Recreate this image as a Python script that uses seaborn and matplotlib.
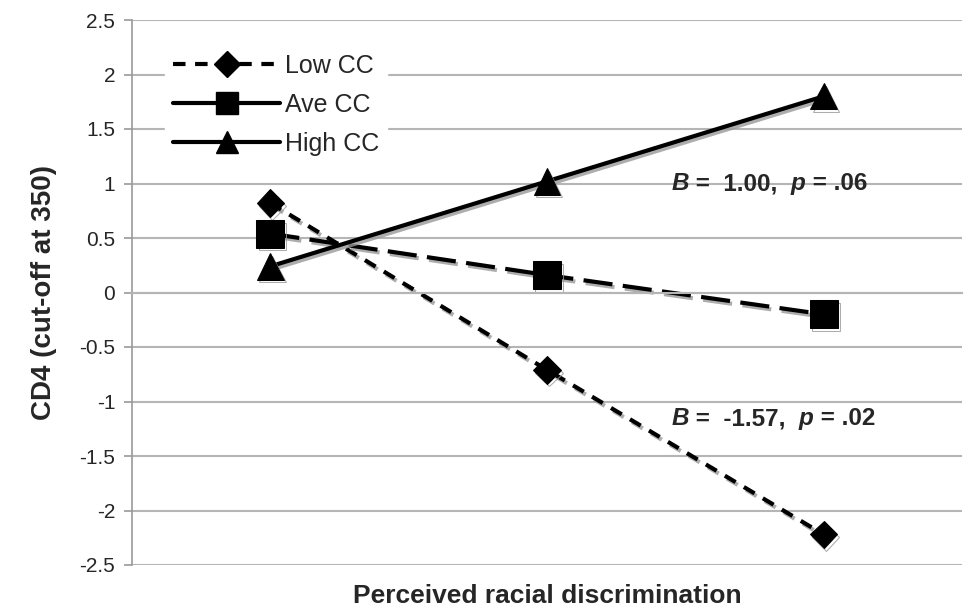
import pandas as pd
import seaborn as sns
import matplotlib.pyplot as plt
import matplotlib.patheffects as pe
from matplotlib.lines import Line2D

# values (three levels of discrimination)
levels = [0, 1, 2]
low_cc = [0.82, -0.71, -2.22]
ave_cc = [0.54, 0.16, -0.20]
high_cc = [0.24, 1.02, 1.80]
series_names = ['Low CC', 'Ave CC', 'High CC']
y_ticks = [2.5, 2, 1.5, 1, 0.5, 0, -0.5, -1, -1.5, -2, -2.5]

df = pd.DataFrame({
    'x': levels * 3,
    'y': low_cc + ave_cc + high_cc,
    'group': [n for n in series_names for _ in levels],
})

sns.set_style('white')
plt.rcParams['font.family'] = ['Liberation Sans', 'DejaVu Sans']

fig = plt.figure(figsize=(9.71, 6.07), dpi=100)
ax = fig.add_axes([132 / 971, 1 - 565 / 607, 830 / 971, 545 / 607])

markers = {'Low CC': 'D', 'Ave CC': 's', 'High CC': '^'}
dashes = {'Low CC': (3, 2.3), 'Ave CC': (7, 2.5), 'High CC': ''}
sns.lineplot(data=df, x='x', y='y', style='group', markers=markers, dashes=dashes,
             color='black', linewidth=3, ax=ax, legend=False)

sizes = {'Low CC': 14, 'Ave CC': 20, 'High CC': 19}
for line, name in zip(ax.lines, series_names):
    line.set_markersize(sizes[name])
    line.set_markeredgecolor('black')
    line.set_markerfacecolor('black')
    line.set_path_effects([pe.SimpleLineShadow(offset=(1.5, -2), shadow_color='#999999', alpha=0.8),
                           pe.Normal()])

ax.set_xlim(-0.5, 2.5)
ax.set_ylim(-2.5, 2.5)
ax.set_yticks(y_ticks)
ax.set_yticklabels([f'{t:g}' for t in y_ticks], fontsize=15)
ax.yaxis.grid(True, color='#b5b5b5', linewidth=1.5)
ax.set_axisbelow(True)

for s in ['top', 'right']:
    ax.spines[s].set_visible(False)
ax.spines['left'].set_color('#999999')
ax.spines['left'].set_linewidth(1.2)
ax.spines['bottom'].set_position(('data', 0))
ax.spines['bottom'].set_color('#b5b5b5')
ax.spines['bottom'].set_linewidth(1.5)
ax.set_xticks([-0.5, 0.5, 1.5, 2.5])
ax.set_xticklabels([])
ax.tick_params(axis='x', direction='out', length=6, color='#999999', width=1.2)
ax.tick_params(axis='y', direction='out', length=6, color='#999999', width=1.2, left=True, pad=6)

ax.set_xlabel('Perceived racial discrimination', fontsize=19, fontweight='bold')
ax.xaxis.set_label_coords(0.5, -0.035, transform=ax.transAxes)
ax.xaxis.label.set_va('top')
ax.set_ylabel('CD4 (cut-off at 350)', fontsize=20, fontweight='bold', labelpad=16)


def stat_text(x, y, parts):
    prev = None
    for s, style in parts:
        kw = dict(fontsize=17.5, fontweight='bold', fontstyle=style, va='center', ha='left')
        if prev is None:
            prev = ax.text(x, y, s, **kw)
        else:
            prev = ax.annotate(s, xy=(1, 0.5), xycoords=prev, **kw)


stat_text(1.45, 1.0, [('B', 'italic'), (' =  1.00,  ', 'normal'), ('p', 'italic'), (' = .06', 'normal')])
stat_text(1.45, -1.16, [('B', 'italic'), (' =  -1.57,  ', 'normal'), ('p', 'italic'), (' = .02', 'normal')])

handles = [
    Line2D([], [], color='black', lw=3, dashes=(3, 2.3), marker='D', markersize=13),
    Line2D([], [], color='black', lw=3, marker='s', markersize=16),
    Line2D([], [], color='black', lw=3, marker='^', markersize=16),
]
leg = ax.legend(handles, series_names, loc='upper left', bbox_to_anchor=(0.025, 0.975),
                frameon=True, facecolor='white', edgecolor='white', fontsize=18,
                handlelength=4.3, labelspacing=0.6, handletextpad=0.2, borderpad=0.3)
leg.get_frame().set_alpha(1)

fig.savefig('out.png', dpi=100)
